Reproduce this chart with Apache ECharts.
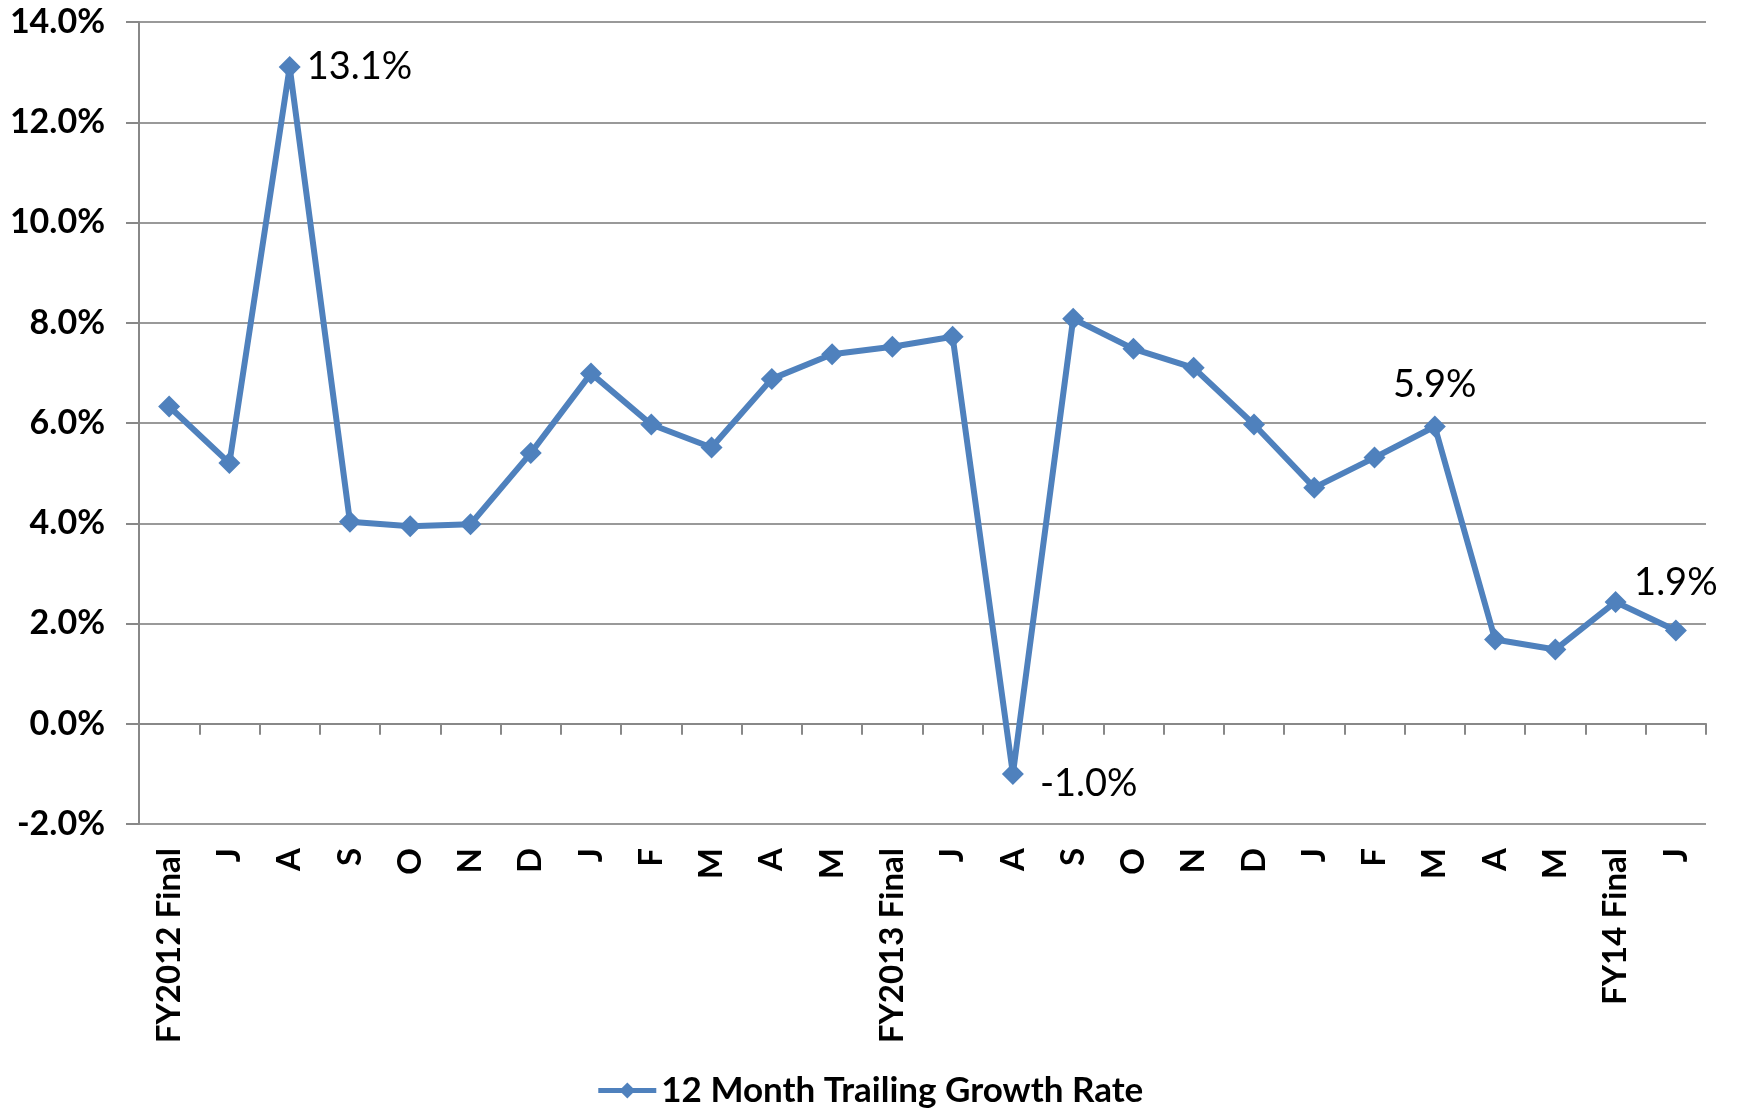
<!DOCTYPE html>
<html><head><meta charset="utf-8">
<script src="https://cdn.jsdelivr.net/npm/echarts@6/dist/echarts.min.js"></script>
<style>html,body{margin:0;padding:0;background:#fff}#c{width:1739px;height:1109px}</style>
</head><body><div id="c"></div>
<script>
const categories = ['FY2012 Final','J','A','S','O','N','D','J','F','M','A','M','FY2013 Final','J','A','S','O','N','D','J','F','M','A','M','FY14 Final','J'];
const growthRate = [6.33,5.2,13.1,4.03,3.94,3.98,5.4,6.99,5.97,5.51,6.88,7.37,7.52,7.72,-1.0,8.08,7.48,7.10,5.97,4.71,5.31,5.93,1.68,1.48,2.43,1.86];
const seriesName = '12 Month Trailing Growth Rate';
const yTicks = {min:-2, max:14, interval:2};
// labelled points: index -> position
const labelled = {2:'right', 14:'right', 21:'top', 25:'top'};

const FONT = 'Lato';
const data = growthRate.map((v,i)=>{
  if (labelled[i] === undefined) return v;
  const lab = {show:true, position:labelled[i], formatter: (v.toFixed(1))+'%', fontFamily:FONT, fontSize:38, color:'#000', distance: labelled[i]==='top'?12:6};
  if (i===14) { lab.offset=[10,10]; }
  if (i===25) lab.offset=[0,-6];
  return {value:v, label:lab};
});

const chart = echarts.init(document.getElementById('c'));
chart.setOption({
  animation:false,
  backgroundColor:'#fff',
  grid:{left:139, right:33, top:22, bottom:285},
  legend:{
    bottom:-4, left:'center', itemWidth:58, itemHeight:20, itemGap:10,
    lineStyle:{width:5},
    textStyle:{fontFamily:FONT, fontWeight:'bold', fontSize:35, color:'#000'},
    data:[seriesName]
  },
  xAxis:[{
    type:'category', data:categories, boundaryGap:true,
    axisLine:{onZero:true, lineStyle:{color:'#888', width:2}},
    axisTick:{show:true, interval:0, length:11, lineStyle:{color:'#888', width:2}},
    axisLabel:{show:false, interval:0}
  },{
    type:'category', data:categories, boundaryGap:true, position:'bottom',
    axisLine:{show:false}, axisTick:{show:false},
    axisLabel:{show:true, interval:0, rotate:90, margin:24, fontFamily:FONT, fontWeight:'bold', fontSize:33, color:'#000'}
  }],
  yAxis:{
    type:'value', min:yTicks.min, max:yTicks.max, interval:yTicks.interval,
    axisLine:{show:true, lineStyle:{color:'#888', width:2}},
    axisTick:{show:true, length:13, lineStyle:{color:'#888', width:2}},
    splitLine:{show:true, lineStyle:{color:'#999', width:2}},
    axisLabel:{margin:34, fontFamily:FONT, fontWeight:'bold', fontSize:34, color:'#000',
      formatter:v=>v.toFixed(1)+'%'}
  },
  series:[{
    name:seriesName, type:'line', xAxisIndex:0, data:data,
    symbol:'diamond', symbolSize:22,
    lineStyle:{color:'#4F81BD', width:6},
    itemStyle:{color:'#4F81BD'},
    z:3
  }]
});
</script></body></html>
